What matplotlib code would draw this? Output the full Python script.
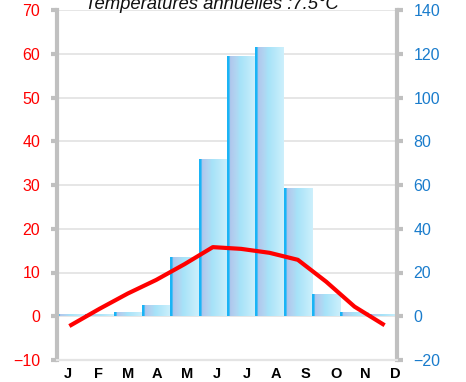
import numpy as np
import matplotlib
matplotlib.use('Agg')
import matplotlib.pyplot as plt
from matplotlib.colors import to_rgb

plt.rcParams['font.family'] = ['Liberation Sans', 'DejaVu Sans']

months = ['J', 'F', 'M', 'A', 'M', 'J', 'J', 'A', 'S', 'O', 'N', 'D']
precip = [1, 1, 2, 5, 27, 72, 119, 123, 58.5, 10, 2, 1]          # mm, right axis
temps  = [-2.0, 1.7, 5.2, 8.3, 11.9, 15.8, 15.4, 14.5, 12.9, 7.9, 2.2, -1.8]  # degC, left axis
title  = 'Températures annuelles :7.5°C'

W, H = 466, 382
fig = plt.figure(figsize=(W / 100, H / 100), dpi=100)
axT = fig.add_axes([57 / W, (H - 360) / H, 340 / W, 350 / H])
axP = axT.twinx()

x = np.arange(len(months))

# precipitation bars with horizontal colour gradient
stops = [(0.00, '#1ab4f6'), (0.07, '#1ab4f6'), (0.10, '#b0c6ec'),
         (0.32, '#b0d6f2'), (0.45, '#a6e2f8'), (1.00, '#cdf0fc')]
pos = np.linspace(0, 1, 64)
cols = np.array([[np.interp(p, [s[0] for s in stops], [to_rgb(s[1])[i] for s in stops])
                  for i in range(3)] for p in pos])
grad = cols[np.newaxis, :, :]

bars = axP.bar(x, precip, width=1.0, color='none', zorder=2)
for b in bars:
    x0, w, h = b.get_x(), b.get_width(), b.get_height()
    im = axP.imshow(grad, extent=[x0, x0 + w, 0, h], aspect='auto',
                    interpolation='bilinear', zorder=2)
    im.set_clip_path(b)

axP.set_ylim(-20, 140)
axP.set_yticks(range(-20, 141, 20))
axP.yaxis.grid(True, color='#e2e2e2', lw=1.2, zorder=0)
axP.set_axisbelow(True)

# temperature line
axT.plot(x, temps, color='#ff0000', lw=3, zorder=5, solid_joinstyle='round')
axT.set_ylim(-10, 70)
axT.set_yticks(range(-10, 71, 10))
axT.set_zorder(axP.get_zorder() + 1)
axT.patch.set_visible(False)

axT.set_xlim(-0.5, 11.5)
axT.set_xticks(np.arange(12) * 1.048 - 0.1)
axT.set_xticklabels(months, fontsize=10.5, fontweight='bold')
axT.tick_params(axis='x', length=0, pad=5)

for ax in (axT, axP):
    ax.spines['top'].set_visible(False)
    ax.spines['bottom'].set_color('#e4e4e4')
    ax.spines['bottom'].set_linewidth(1.5)
axT.spines['right'].set_visible(False)
axP.spines['left'].set_visible(False)
axT.spines['left'].set_color('#c0c0c0')
axT.spines['left'].set_linewidth(3)
axP.spines['right'].set_color('#c0c0c0')
axP.spines['right'].set_linewidth(3)

axT.tick_params(axis='y', colors='#c0c0c0', length=4, width=3, pad=8,
                labelcolor='#ff0000', labelsize=11.5)
axP.tick_params(axis='y', colors='#c0c0c0', length=4, width=3, pad=8,
                labelcolor='#1a7ccc', labelsize=11.5)

fig.text(212 / W, (H - 9) / H, title, ha='center', va='baseline',
         fontsize=13.3, style='italic', color='#111111')

fig.savefig('out.png', dpi=100)
